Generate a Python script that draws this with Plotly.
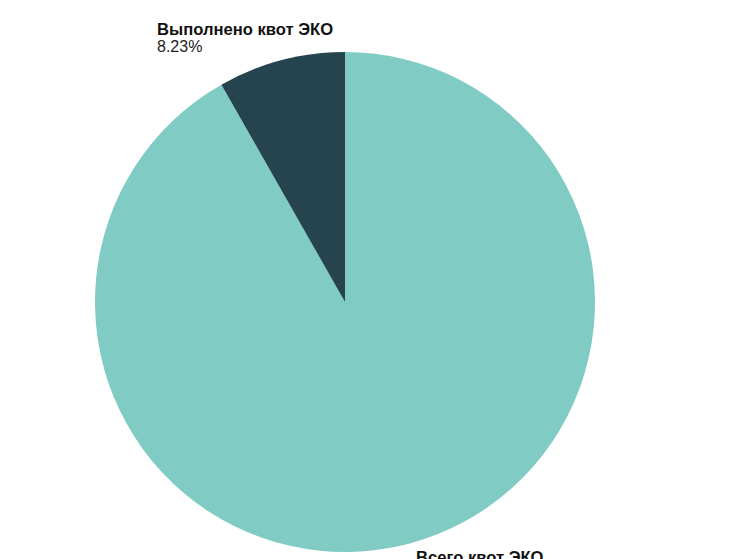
import plotly.graph_objects as go

labels = ["Всего квот ЭКО", "Выполнено квот ЭКО"]
values = [91.77, 8.23]
colors = ["#80cbc4", "#26444f"]

# where the outside labels sit (paper coords), left aligned like the original
label_pos = [(0.603, 0.013), (0.218, 1.068)]

total = sum(values)

fig = go.Figure()

fig.add_trace(
    go.Pie(
        labels = labels,
        values = values,
        sort = False,
        direction = "clockwise",
        rotation = 0,
        marker = dict(colors = colors, line = dict(width = 0)),
        textinfo = "none",
        hoverinfo = "label+percent",
        automargin = False,
        showlegend = False,
    )
)

for lab, val, (px, py) in zip(labels, values, label_pos):
    fig.add_annotation(
        x = px, y = py, xref = "paper", yref = "paper",
        xanchor = "left", yanchor = "top",
        text = "<b>" + lab + "</b>",
        showarrow = False,
        font = dict(family = "Liberation Sans", size = 16.6, color = "#111111"),
    )
    fig.add_annotation(
        x = px, y = py - 0.037, xref = "paper", yref = "paper",
        xanchor = "left", yanchor = "top",
        text = f"{val / total:.2%}",
        showarrow = False,
        font = dict(family = "Liberation Sans", size = 16, color = "#222222"),
    )

fig.update_layout(
    width = 746,
    height = 559,
    margin = dict(l = 0, r = 72, t = 44, b = 15),
    paper_bgcolor = "white",
    plot_bgcolor = "white",
)

fig.write_html("out.html")
